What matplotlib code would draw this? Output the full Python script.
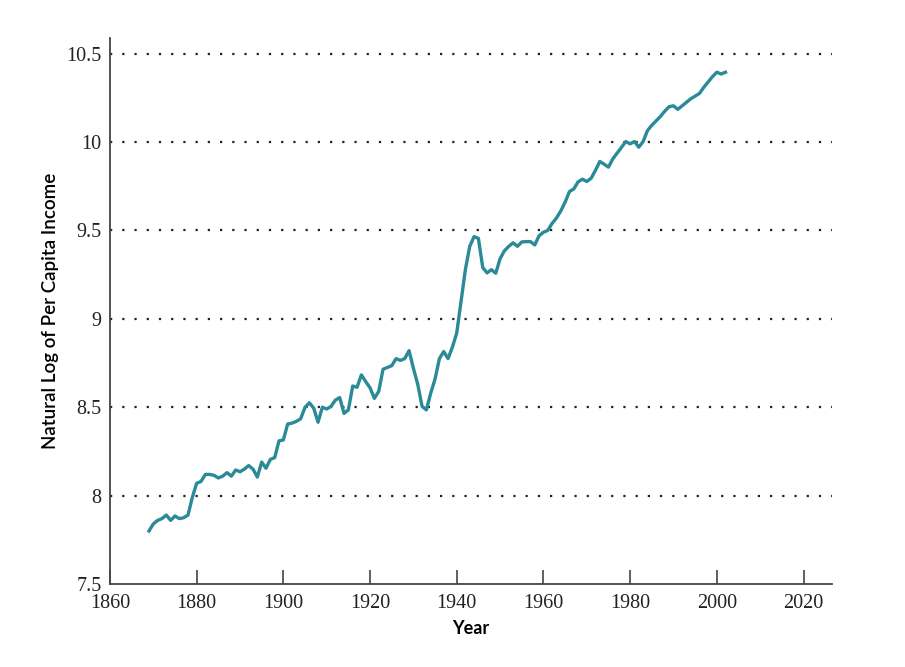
import matplotlib
matplotlib.use("Agg")
import matplotlib.pyplot as plt
import numpy as np

# per capita income (natural log), annual 1869-2002
years = list(range(1869, 2003))
log_income = [
    7.80, 7.84, 7.86, 7.87, 7.89, 7.86, 7.885, 7.87, 7.875, 7.89,   # 1869-1878
    7.99, 8.07, 8.08, 8.12, 8.12, 8.115, 8.10, 8.11, 8.13, 8.11,    # 1879-1888
    8.145, 8.135, 8.15, 8.17, 8.15, 8.105, 8.19, 8.155, 8.205, 8.215,  # 1889-1898
    8.31, 8.315, 8.405, 8.41, 8.42, 8.435, 8.50, 8.525, 8.495, 8.415,  # 1899-1908
    8.50, 8.49, 8.505, 8.54, 8.555, 8.465, 8.485, 8.62, 8.613, 8.683,  # 1909-1918
    8.645, 8.61, 8.55, 8.59, 8.715, 8.725, 8.735, 8.775, 8.765, 8.775,  # 1919-1928
    8.82, 8.72, 8.63, 8.505, 8.485, 8.58, 8.66, 8.775, 8.815, 8.775,   # 1929-1938
    8.84, 8.92, 9.10, 9.28, 9.41, 9.465, 9.455, 9.29, 9.26, 9.278,     # 1939-1948
    9.258, 9.34, 9.385, 9.41, 9.43, 9.41, 9.435, 9.437, 9.437, 9.418,  # 1949-1958
    9.47, 9.49, 9.50, 9.54, 9.57, 9.61, 9.66, 9.72, 9.735, 9.775,      # 1959-1968
    9.79, 9.777, 9.795, 9.84, 9.89, 9.875, 9.858, 9.905, 9.937, 9.97,  # 1969-1978
    10.003, 9.99, 10.003, 9.971, 10.003, 10.065, 10.095, 10.12, 10.145, 10.175,  # 1979-1988
    10.20, 10.205, 10.185, 10.205, 10.225, 10.245, 10.26, 10.275, 10.31, 10.34,  # 1989-1998
    10.37, 10.395, 10.385, 10.395,                                     # 1999-2002
]
x_ticks = [1860, 1880, 1900, 1920, 1940, 1960, 1980, 2000, 2020]
y_ticks = [7.5, 8, 8.5, 9, 9.5, 10, 10.5]
y_tick_labels = ["7.5", "8", "8.5", "9", "9.5", "10", "10.5"]

fig = plt.figure(figsize=(9.05, 6.67), dpi=100)
ax = fig.add_axes([0.1215, 0.1244, 0.7975, 0.819])

# dotted reference lines (not at the bottom one)
for v in y_ticks[1:]:
    ax.axhline(v, color="#222222", linestyle=(0, (1, 4.5)), linewidth=1.6, zorder=1)

ax.plot(years, log_income, color="#2a8a97", linewidth=2.4, zorder=3)

ax.set_xlim(1860, 2026.5)
ax.set_ylim(7.5, 10.59)
ax.set_xticks(x_ticks)
ax.set_yticks(y_ticks)
ax.set_yticklabels(y_tick_labels)

for s in ["top", "right"]:
    ax.spines[s].set_visible(False)
for s in ["left", "bottom"]:
    ax.spines[s].set_color("#444444")
    ax.spines[s].set_linewidth(1.3)

ax.tick_params(axis="x", direction="in", length=10, width=1.2, color="#444444", pad=7)
ax.tick_params(axis="y", length=0, pad=6)
for lab in ax.get_xticklabels() + ax.get_yticklabels():
    lab.set_family("Liberation Serif")
    lab.set_fontsize(14.5)
    lab.set_color("#222222")

ax.set_xlabel("Year", family="Lato", fontsize=13, fontweight="bold", labelpad=5)
ax.set_ylabel("Natural Log of Per Capita Income", family="Lato", fontsize=13.5,
              fontweight="semibold", labelpad=5)

fig.savefig("out.png", dpi=100)
